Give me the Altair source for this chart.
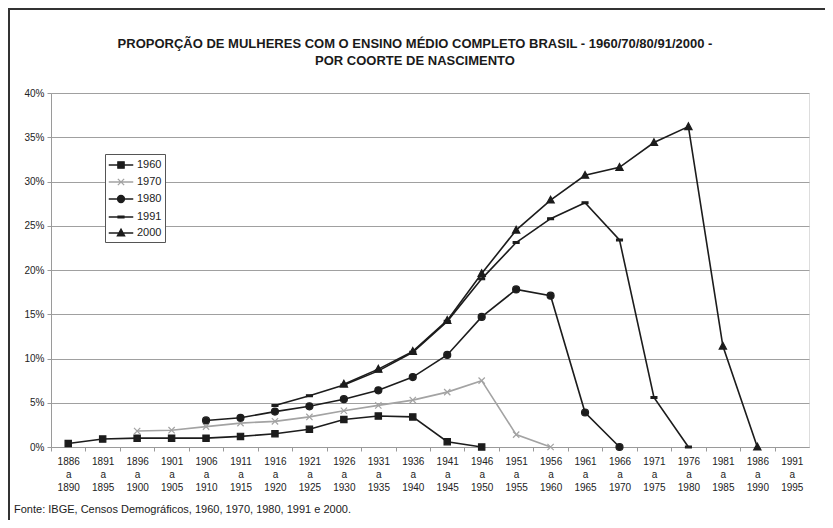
import altair as alt
import pandas as pd

categories = ["1886 a 1890", "1891 a 1895", "1896 a 1900", "1901 a 1905", "1906 a 1910",
              "1911 a 1915", "1916 a 1920", "1921 a 1925", "1926 a 1930", "1931 a 1935",
              "1936 a 1940", "1941 a 1945", "1946 a 1950", "1951 a 1955", "1956 a 1960",
              "1961 a 1965", "1966 a 1970", "1971 a 1975", "1976 a 1980", "1981 a 1985",
              "1986 a 1990", "1991 a 1995"]

series_names = ["1960", "1970", "1980", "1991", "2000"]

N = None
s1960 = [0.4, 0.9, 1.0, 1.0, 1.0, 1.2, 1.5, 2.0, 3.1, 3.5, 3.4, 0.6, 0.0, N, N, N, N, N, N, N, N, N]
s1970 = [N, N, 1.8, 1.9, 2.3, 2.7, 2.9, 3.4, 4.1, 4.7, 5.3, 6.2, 7.5, 1.4, 0.0, N, N, N, N, N, N, N]
s1980 = [N, N, N, N, 3.0, 3.3, 4.0, 4.6, 5.4, 6.4, 7.9, 10.4, 14.7, 17.8, 17.1, 3.9, 0.0, N, N, N, N, N]
s1991 = [N, N, N, N, N, N, 4.7, 5.8, 7.0, 8.6, 10.7, 14.2, 19.0, 23.1, 25.8, 27.6, 23.4, 5.6, 0.0, N, N, N]
s2000 = [N, N, N, N, N, N, N, N, 7.1, 8.8, 10.8, 14.3, 19.6, 24.5, 27.9, 30.7, 31.6, 34.4, 36.2, 11.4, 0.0, N]

title_line1 = "PROPORÇÃO DE MULHERES COM O ENSINO MÉDIO COMPLETO BRASIL - 1960/70/80/91/2000 -"
title_line2 = "POR COORTE DE NASCIMENTO"
source_text = "Fonte: IBGE, Censos Demográficos, 1960, 1970, 1980, 1991 e 2000."
y_ticks = [0, 5, 10, 15, 20, 25, 30, 35, 40]

rows = []
for name, vals in zip(series_names, [s1960, s1970, s1980, s1991, s2000]):
    for i, (c, v) in enumerate(zip(categories, vals)):
        if v is not None:
            rows.append({"series": name, "cat": c, "idx": i, "value": v})
df = pd.DataFrame(rows)

colors = ["#1c1c1c", "#a3a3a3", "#1c1c1c", "#1c1c1c", "#1c1c1c"]
marker_paths = [
    "M-0.45,-0.45H0.45V0.45H-0.45Z",
    "M-0.45,-0.45L0.45,0.45M-0.45,0.45L0.45,-0.45",
    "M-0.5,0A0.5,0.5,0,1,1,0.5,0A0.5,0.5,0,1,1,-0.5,0Z",
    "M-0.42,-0.13H0.42V0.13H-0.42Z",
    "M0,-0.55L0.52,0.42H-0.52Z",
]
legend_paths = ["M-1.75,0H1.75" + p for p in marker_paths]

W, H = 758, 354
FONT = "Liberation Sans"
STEP = W / len(categories)

x_enc = alt.X("cat:N", sort=categories,
              scale=alt.Scale(domain=categories, type="point", padding=0.5),
              axis=alt.Axis(title=None, labelExpr="split(datum.label, ' ')", labelAngle=0,
                            labelFontSize=10, labelFont=FONT, labelColor="#222222",
                            labelLineHeight=13, labelPadding=5, tickSize=4,
                            tickColor="#9a9a9a", domainColor="#9a9a9a", grid=False,
                            tickOffset=-STEP / 2, labelOffset=STEP / 2))
y_enc = alt.Y("value:Q", scale=alt.Scale(domain=[0, 40], nice=False),
              axis=alt.Axis(title=None, values=y_ticks, labelExpr="datum.value + '%'",
                            labelFontSize=10, labelFont=FONT, labelColor="#222222",
                            tickSize=4, tickColor="#9a9a9a", domainColor="#9a9a9a",
                            labelPadding=3, grid=True, gridColor="#a0a0a0", gridWidth=1.2))

color_scale = alt.Scale(domain=series_names, range=colors)

base = alt.Chart(df)

lines = base.mark_line(strokeWidth=1.6).encode(
    x=x_enc, y=y_enc,
    color=alt.Color("series:N", scale=color_scale, legend=None),
    order="idx:Q",
)

points = base.mark_point(filled=True, size=196, strokeWidth=1.2, opacity=1).encode(
    x=x_enc, y=y_enc,
    color=alt.Color("series:N", scale=color_scale, legend=None),
    stroke=alt.Stroke("series:N", scale=color_scale, legend=None),
    shape=alt.Shape("series:N", scale=alt.Scale(domain=series_names, range=marker_paths), legend=None),
)

leg = alt.Legend(title=None, orient="none", legendX=54, legendY=61, padding=3,
                 strokeColor="#555555", fillColor="white", rowPadding=3,
                 symbolSize=196, symbolOffset=5, labelOffset=8, labelFontSize=11,
                 labelFont=FONT, labelColor="#222222", symbolStrokeWidth=1.3,
                 symbolOpacity=1)

legend_layer = base.transform_filter("false").mark_point(filled=True, size=196, strokeWidth=1.3, opacity=1).encode(
    x=x_enc, y=y_enc,
    color=alt.Color("series:N", scale=color_scale, legend=leg),
    stroke=alt.Stroke("series:N", scale=color_scale, legend=leg),
    shape=alt.Shape("series:N", scale=alt.Scale(domain=series_names, range=legend_paths), legend=leg),
)

def text_layer(txt, x, y, size, weight="normal", align="left"):
    return alt.Chart(pd.DataFrame({"t": [txt]})).mark_text(
        align=align, baseline="middle", fontSize=size, font=FONT, fontWeight=weight, color="#1a1a1a"
    ).encode(text="t:N", x=alt.value(x), y=alt.value(y))

title1 = text_layer(title_line1, 364, -49, 13, "bold", "center")
title2 = text_layer(title_line2, 364, -32, 13, "bold", "center")
source = text_layer(source_text, -37, 417, 11)

frame_left = alt.Chart(pd.DataFrame({"t": [0]})).mark_rule(color="#333333", strokeWidth=2).encode(
    x=alt.value(-42), y=alt.value(-85), y2=alt.value(H + 73))
frame_top = alt.Chart(pd.DataFrame({"t": [0]})).mark_rule(color="#333333", strokeWidth=2).encode(
    y=alt.value(-84), x=alt.value(-43), x2=alt.value(W + 16))

chart = alt.layer(lines, points, legend_layer, title1, title2, source, frame_left, frame_top).resolve_scale(
    color="independent", stroke="independent", shape="independent"
).properties(
    width=W, height=H,
    autosize=alt.AutoSizeParams(type="none"),
    padding={"left": 43, "top": 85, "right": 16, "bottom": 73},
).configure_view(stroke="#9a9a9a", strokeWidth=1.5).configure(background="white")

chart.save("out.html", embed_options={"renderer": "svg", "actions": False})
